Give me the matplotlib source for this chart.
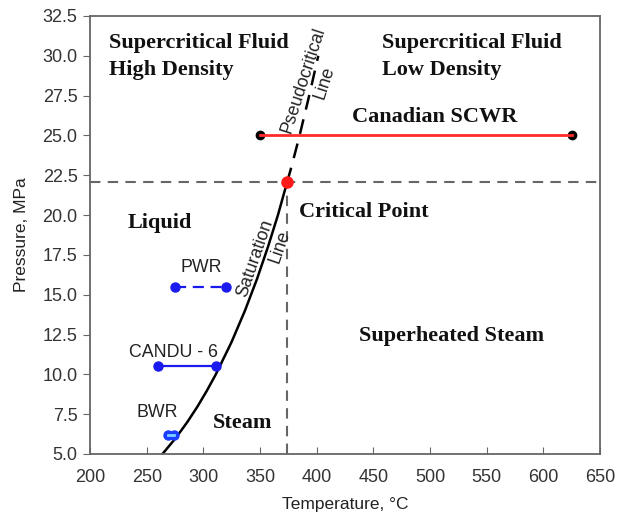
import numpy as np
import matplotlib
matplotlib.use("Agg")
import matplotlib.pyplot as plt
from matplotlib.ticker import FormatStrFormatter

# Saturation line of water (pressure MPa -> temperature C)
sat_p = [5.0, 6.0, 7.0, 8.0, 9.0, 10.0, 12.0, 14.0, 16.0, 18.0, 20.0, 22.064]
sat_t = [263.9, 275.6, 285.8, 295.0, 303.3, 311.0, 324.7, 336.7, 347.4, 357.0, 365.8, 373.9]

# Pseudocritical line above the critical point
pc_p = [22.064, 23.0, 24.0, 25.0, 26.0, 27.0, 28.0, 29.0, 30.0]
pc_t = [373.9, 377.6, 381.3, 384.9, 388.3, 391.7, 395.0, 398.2, 401.4]

crit_t, crit_p = 373.9, 22.064

# Reactor operating ranges
scwr_t = [350, 625]
scwr_p = [25.0, 25.0]
pwr_t = [275, 320]
pwr_p = [15.5, 15.5]
candu_t = [260, 311]
candu_p = [10.5, 10.5]
bwr_t = [269, 274]
bwr_p = [6.2, 6.2]

xticks = np.arange(200, 651, 50)
yticks = np.arange(5.0, 32.6, 2.5)

sans = "Liberation Sans"
serif = "Liberation Serif"
bold_col = "#111111"

fig = plt.figure(figsize=(6.17, 5.12), dpi=100)
ax = fig.add_axes([0.1459, 0.1133, 0.8266, 0.8555])

# region boundaries
ax.axhline(crit_p, color="#666666", lw=1.5, ls=(0, (5, 3.5)), zorder=1)
ax.plot([crit_t, crit_t], [5.0, crit_p], color="#666666", lw=1.5, ls=(0, (5, 3.5)), zorder=1)

ax.plot(sat_t, sat_p, color="black", lw=1.8, zorder=2)
ax.plot(pc_t, pc_p, color="black", lw=1.8, ls=(0, (6, 4)), zorder=2)

# reactors
ax.plot(scwr_t, scwr_p, "o", color="black", ms=6, zorder=3)
ax.plot(scwr_t, scwr_p, color="#ff2a2a", lw=2, zorder=4)
ax.plot(pwr_t, pwr_p, "o--", color="#1a1aee", lw=1.6, ms=6.5, dashes=(5, 3), zorder=3)
ax.plot(candu_t, candu_p, "o-", color="#1a1aee", lw=1.6, ms=6.5, zorder=3)
ax.plot(bwr_t, bwr_p, "o", color="#1a3cff", ms=6.5, zorder=3)
ax.plot(bwr_t, bwr_p, color="#7fd0ff", lw=2, zorder=4)

ax.plot([crit_t], [crit_p], "o", color="#ff1a1a", ms=8, zorder=5)

# region labels
kw = dict(family=serif, fontweight="bold", fontsize=16, color=bold_col, ha="left", va="center")
ax.text(217, 30.8, "Supercritical Fluid", **kw)
ax.text(217, 29.1, "High Density", **kw)
ax.text(458, 30.8, "Supercritical Fluid", **kw)
ax.text(458, 29.1, "Low Density", **kw)
ax.text(431, 26.15, "Canadian SCWR", **kw)
ax.text(384, 20.2, "Critical Point", **kw)
ax.text(233, 19.5, "Liquid", **kw)
ax.text(437, 12.4, "Superheated Steam", **kw)
ax.text(308, 6.95, "Steam", **kw)

lkw = dict(family=sans, fontsize=12.8, color="#222222", ha="center", va="center")
ax.text(298.5, 16.7, "PWR", **lkw)
ax.text(273.5, 11.4, "CANDU - 6", **lkw)
ax.text(259, 7.6, "BWR", **lkw)

ax.text(345.6, 17.3, "Saturation", rotation=71, **lkw)
ax.text(367.6, 18.0, "Line", rotation=71, **lkw)
ax.text(388, 28.5, "Pseudocritical", rotation=72, **lkw)
ax.text(407, 28.3, "Line", rotation=72, **lkw)

ax.set_xlim(200, 650)
ax.set_ylim(5.0, 32.5)
ax.set_xticks(xticks)
ax.set_yticks(yticks)
ax.yaxis.set_major_formatter(FormatStrFormatter("%.1f"))
ax.tick_params(axis="x", direction="in", length=5, color="#666666", pad=11)
ax.tick_params(axis="y", direction="out", length=5, color="#666666", pad=4)
for lab in ax.get_xticklabels() + ax.get_yticklabels():
    lab.set_family(sans)
    lab.set_fontsize(13)
    lab.set_color("#333333")
for s in ax.spines.values():
    s.set_color("#666666")
    s.set_linewidth(1.3)

ax.set_xlabel("Temperature, °C", family=sans, fontsize=12.5, color="#222222", labelpad=8)
ax.set_ylabel("Pressure, MPa", family=sans, fontsize=12.5, color="#222222", labelpad=10)

fig.savefig("out.png", dpi=100)
